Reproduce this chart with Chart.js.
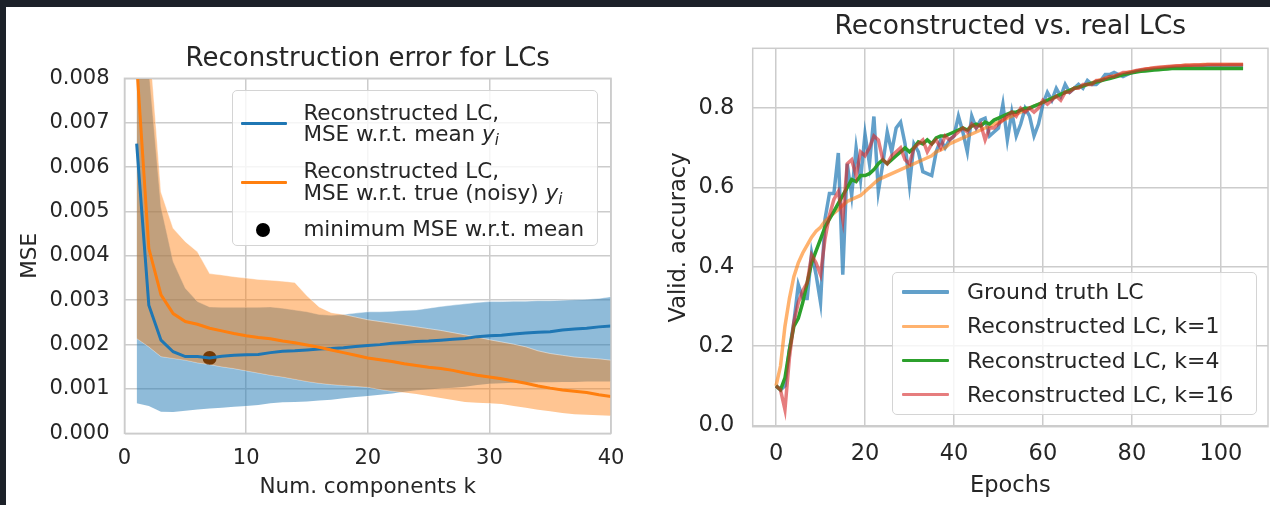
<!DOCTYPE html>
<html lang="en">
<head>
  <meta charset="UTF-8">
  <title>Reconstructed learning curves</title>
  <script src="https://cdn.jsdelivr.net/npm/chart.js"></script>
  <style>
    body {
      margin: 0;
      width: 1270px;
      height: 505px;
      overflow: hidden;
      background: #1c2129;
      font-family: 'DejaVu Sans', sans-serif;
      color: #262626;
    }
    #sheet {
      position: absolute;
      left: 6px;
      top: 7px;
      width: 1264px;
      height: 498px;
      background: #fff;
    }
    .panel { position: absolute; top: 0; height: 498px; }
    #left-panel { left: 0; width: 620px; }
    #right-panel { left: 624px; width: 640px; }
    .legend {
      position: absolute;
      background: rgba(255, 255, 255, 0.8);
      border: 1.5px solid #d4d4d4;
      border-radius: 5px;
      box-sizing: border-box;
    }
    .legend .handle { position: absolute; border-radius: 1px; }
    .legend .dot { position: absolute; border-radius: 50%; background: #000; }
    .legend .txt { position: absolute; white-space: nowrap; line-height: 26px; height: 26px; }
    .legend .math { font-style: italic; }
    .legend sub { font-size: 70%; vertical-align: -0.25em; line-height: 0; }
  </style>
</head>
<body>
  <div id="sheet">
    <div class="panel" id="left-panel"><canvas id="mseChart"></canvas></div>
    <div class="panel" id="right-panel"><canvas id="lcChart"></canvas></div>
    <div class="legend" id="mseLegend" style="left:226px;top:83px;width:366px;height:156px;"></div>
    <div class="legend" id="lcLegend" style="left:886px;top:265px;width:365px;height:143px;"></div>
  </div>
  <script>
    // left panel: reconstruction error vs number of components
    const components = [1, 2, 3, 4, 5, 6, 7, 8, 9, 10, 11, 12, 13, 14, 15, 16, 17, 18, 19, 20,
      21, 22, 23, 24, 25, 26, 27, 28, 29, 30, 31, 32, 33, 34, 35, 36, 37, 38, 39, 40];
    const mseMean = [0.00653, 0.00289, 0.00210, 0.00184, 0.00173, 0.00173, 0.00170, 0.00174, 0.00176, 0.00177,
      0.00178, 0.00182, 0.00185, 0.00186, 0.00188, 0.00190, 0.00191, 0.00193, 0.00196, 0.00198,
      0.00200, 0.00203, 0.00205, 0.00207, 0.00208, 0.00210, 0.00212, 0.00214, 0.00218, 0.00220,
      0.00221, 0.00224, 0.00226, 0.00228, 0.00229, 0.00233, 0.00235, 0.00237, 0.00240, 0.00242];
    const mseMeanUpper = [0.0120, 0.0082, 0.00510, 0.00387, 0.00327, 0.00297, 0.00285, 0.00284, 0.00284, 0.00284,
      0.00284, 0.00285, 0.00282, 0.00278, 0.00274, 0.00268, 0.00266, 0.00268, 0.00271, 0.00274,
      0.00274, 0.00275, 0.00277, 0.00278, 0.00282, 0.00286, 0.00289, 0.00292, 0.00295, 0.00297,
      0.00297, 0.00298, 0.00298, 0.00299, 0.00299, 0.00300, 0.00301, 0.00302, 0.00304, 0.00308];
    const mseMeanLower = [0.00068, 0.00062, 0.00049, 0.00048, 0.00051, 0.00054, 0.00056, 0.00058, 0.00060, 0.00062,
      0.00064, 0.00068, 0.00070, 0.00071, 0.00072, 0.00074, 0.00076, 0.00079, 0.00082, 0.00084,
      0.00087, 0.00090, 0.00094, 0.00097, 0.00099, 0.00101, 0.00103, 0.00105, 0.00109, 0.00112,
      0.00113, 0.00114, 0.00114, 0.00115, 0.00115, 0.00116, 0.00116, 0.00117, 0.00117, 0.00117];
    const mseNoisy = [0.00833, 0.00417, 0.00312, 0.00270, 0.00252, 0.00246, 0.00237, 0.00231, 0.00225, 0.00220,
      0.00216, 0.00213, 0.00208, 0.00204, 0.00199, 0.00194, 0.00188, 0.00182, 0.00176, 0.00170,
      0.00166, 0.00162, 0.00157, 0.00153, 0.00149, 0.00146, 0.00142, 0.00136, 0.00131, 0.00127,
      0.00123, 0.00118, 0.00113, 0.00107, 0.00102, 0.00098, 0.00095, 0.00092, 0.00087, 0.00083];
    const mseNoisyUpper = [0.0125, 0.0090, 0.00544, 0.00462, 0.00432, 0.00409, 0.00360, 0.00357, 0.00353, 0.00350,
      0.00347, 0.00345, 0.00343, 0.00340, 0.00310, 0.00285, 0.00272, 0.00268, 0.00262, 0.00256,
      0.00252, 0.00248, 0.00244, 0.00240, 0.00236, 0.00232, 0.00227, 0.00222, 0.00217, 0.00211,
      0.00206, 0.00201, 0.00195, 0.00186, 0.00180, 0.00176, 0.00172, 0.00170, 0.00168, 0.00165];
    const mseNoisyLower = [0.00214, 0.00195, 0.00173, 0.00169, 0.00165, 0.00159, 0.00155, 0.00150, 0.00146, 0.00141,
      0.00136, 0.00131, 0.00127, 0.00122, 0.00117, 0.00113, 0.00110, 0.00108, 0.00106, 0.00104,
      0.00099, 0.00095, 0.00092, 0.00089, 0.00084, 0.00080, 0.00075, 0.00071, 0.00069, 0.00068,
      0.00066, 0.00062, 0.00058, 0.00053, 0.00050, 0.00046, 0.00043, 0.00042, 0.00041, 0.00040];
    const minMse = { k: 7, value: 0.00170 };
    const mseTicksX = [0, 10, 20, 30, 40];
    const mseTicksY = [0, 0.001, 0.002, 0.003, 0.004, 0.005, 0.006, 0.007, 0.008];
    const mseLegendLabels = [
      ['Reconstructed LC,', 'MSE w.r.t. mean $y_i$'],
      ['Reconstructed LC,', 'MSE w.r.t. true (noisy) $y_i$'],
      ['minimum MSE w.r.t. mean']
    ];

    // right panel: validation accuracy per epoch
    const epochs = [0, 1, 2, 3, 4, 5, 6, 7, 8, 9, 10, 11, 12, 13, 14, 15, 16, 17, 18, 19,
      20, 21, 22, 23, 24, 25, 26, 27, 28, 29, 30, 31, 32, 33, 34, 35, 36, 37, 38, 39,
      40, 41, 42, 43, 44, 45, 46, 47, 48, 49, 50, 51, 52, 53, 54, 55, 56, 57, 58, 59,
      60, 61, 62, 63, 64, 65, 66, 67, 68, 69, 70, 71, 72, 73, 74, 75, 76, 77, 78, 79,
      80, 81, 82, 83, 84, 85, 86, 87, 88, 89, 90, 91, 92, 93, 94, 95, 96, 97, 98, 99,
      100, 101, 102, 103, 104, 105];
    const accTruth = [0.10, 0.09, 0.10, 0.19, 0.26, 0.355, 0.32, 0.32, 0.435, 0.38,
      0.31, 0.52, 0.585, 0.585, 0.687, 0.38, 0.66, 0.58, 0.70, 0.62,
      0.735, 0.66, 0.779, 0.59, 0.66, 0.74, 0.69, 0.75, 0.765, 0.71,
      0.607, 0.71, 0.69, 0.64, 0.635, 0.63, 0.69, 0.72, 0.70, 0.72,
      0.73, 0.78, 0.74, 0.69, 0.78, 0.75, 0.77, 0.775, 0.73, 0.74,
      0.75, 0.81, 0.72, 0.79, 0.73, 0.76, 0.80, 0.78, 0.73, 0.76,
      0.81, 0.84, 0.82, 0.85, 0.83, 0.86, 0.84, 0.85, 0.86, 0.85,
      0.87, 0.86, 0.86, 0.87, 0.885, 0.885, 0.89, 0.885, 0.88, 0.885,
      0.89, 0.893, 0.895, 0.897, 0.898, 0.899, 0.90, 0.901, 0.902, 0.903,
      0.903, 0.904, 0.905, 0.905, 0.905, 0.906, 0.906, 0.906, 0.907, 0.907,
      0.907, 0.907, 0.908, 0.908, 0.908, 0.908];
    const accK1 = [0.10, 0.15, 0.25, 0.32, 0.375, 0.41, 0.435, 0.455, 0.475, 0.49,
      0.50, 0.515, 0.525, 0.535, 0.545, 0.555, 0.565, 0.57, 0.575, 0.58,
      0.59, 0.60, 0.61, 0.62, 0.625, 0.63, 0.635, 0.64, 0.645, 0.65,
      0.655, 0.66, 0.665, 0.67, 0.675, 0.68, 0.69, 0.695, 0.70, 0.71,
      0.715, 0.72, 0.725, 0.73, 0.735, 0.74, 0.745, 0.75, 0.755, 0.76,
      0.765, 0.77, 0.775, 0.78, 0.785, 0.79, 0.795, 0.80, 0.805, 0.81,
      0.815, 0.82, 0.825, 0.83, 0.835, 0.84, 0.845, 0.85, 0.853, 0.856,
      0.86, 0.864, 0.868, 0.872, 0.875, 0.878, 0.881, 0.884, 0.887, 0.89,
      0.892, 0.894, 0.896, 0.898, 0.90, 0.901, 0.902, 0.903, 0.904, 0.905,
      0.906, 0.907, 0.908, 0.908, 0.909, 0.909, 0.91, 0.91, 0.91, 0.91,
      0.91, 0.91, 0.91, 0.91, 0.91, 0.91];
    const accK4 = [0.10, 0.09, 0.12, 0.19, 0.25, 0.27, 0.31, 0.36, 0.41, 0.44,
      0.47, 0.50, 0.52, 0.54, 0.56, 0.58, 0.60, 0.62, 0.615, 0.63,
      0.63, 0.635, 0.645, 0.66, 0.67, 0.66, 0.67, 0.68, 0.69, 0.70,
      0.69, 0.70, 0.715, 0.71, 0.72, 0.71, 0.725, 0.73, 0.73, 0.735,
      0.74, 0.745, 0.75, 0.745, 0.755, 0.76, 0.755, 0.765, 0.76, 0.77,
      0.775, 0.78, 0.785, 0.79, 0.79, 0.795, 0.80, 0.80, 0.805, 0.81,
      0.815, 0.82, 0.825, 0.83, 0.835, 0.84, 0.845, 0.85, 0.853, 0.856,
      0.86, 0.863, 0.866, 0.869, 0.872, 0.875, 0.878, 0.881, 0.884, 0.887,
      0.889, 0.891, 0.893, 0.894, 0.895, 0.896, 0.897, 0.898, 0.899, 0.90,
      0.90, 0.90, 0.90, 0.90, 0.90, 0.90, 0.90, 0.90, 0.90, 0.90,
      0.90, 0.90, 0.90, 0.90, 0.90, 0.90];
    const accK16 = [0.10, 0.09, 0.04, 0.17, 0.26, 0.31, 0.34, 0.36, 0.43, 0.41,
      0.38, 0.47, 0.53, 0.57, 0.59, 0.52, 0.66, 0.67, 0.63, 0.69,
      0.68, 0.70, 0.73, 0.72, 0.67, 0.66, 0.68, 0.69, 0.70, 0.67,
      0.66, 0.70, 0.71, 0.72, 0.69, 0.71, 0.72, 0.70, 0.73, 0.72,
      0.73, 0.74, 0.75, 0.74, 0.76, 0.75, 0.76, 0.72, 0.75, 0.75,
      0.76, 0.77, 0.78, 0.79, 0.78, 0.80, 0.79, 0.80, 0.79, 0.80,
      0.82, 0.81, 0.82, 0.83, 0.82, 0.84, 0.84, 0.85, 0.85, 0.86,
      0.86, 0.86, 0.87, 0.87, 0.875, 0.88, 0.88, 0.885, 0.89, 0.89,
      0.892, 0.895, 0.897, 0.899, 0.90, 0.902, 0.903, 0.904, 0.905, 0.906,
      0.907, 0.907, 0.908, 0.908, 0.909, 0.909, 0.909, 0.91, 0.91, 0.91,
      0.91, 0.91, 0.91, 0.91, 0.91, 0.91];
    const accTicksX = [0, 20, 40, 60, 80, 100];
    const accTicksY = [0, 0.2, 0.4, 0.6, 0.8];
    const lcLegendLabels = ['Ground truth LC', 'Reconstructed LC, k=1', 'Reconstructed LC, k=4', 'Reconstructed LC, k=16'];

    const textColor = '#262626';
    const gridColor = '#cccccc';
    Chart.defaults.font.family = "'DejaVu Sans', sans-serif";
    Chart.defaults.color = textColor;

    const points = (xs, ys) => ys.map((y, i) => ({ x: xs[i], y: y }));
    const fixTicks = values => scale => { scale.ticks = values.map(v => ({ value: v })); };

    // light grey box round the plot area, like the seaborn spines
    const framePlugin = {
      id: 'frame',
      afterDatasetsDraw(chart) {
        const { ctx, chartArea: a } = chart;
        ctx.save();
        ctx.strokeStyle = gridColor;
        ctx.lineWidth = 1.5;
        ctx.strokeRect(a.left, a.top, a.right - a.left, a.bottom - a.top);
        ctx.restore();
      }
    };

    function band(data, color, order, fill) {
      return {
        data: data, fill: fill, backgroundColor: color,
        borderColor: 'rgba(255,255,255,0.45)', borderWidth: 1,
        pointRadius: 0, tension: 0, order: order
      };
    }

    const mseChart = new Chart(document.getElementById('mseChart'), {
      type: 'line',
      data: {
        datasets: [
          band(points(components, mseMeanUpper), 'rgba(31,119,180,0.5)', 5, '+1'),
          band(points(components, mseMeanLower), 'transparent', 5, false),
          band(points(components, mseNoisyUpper), 'rgba(255,127,14,0.45)', 3, '+1'),
          band(points(components, mseNoisyLower), 'transparent', 3, false),
          {
            type: 'scatter', data: [{ x: minMse.k, y: minMse.value }],
            backgroundColor: '#000', borderWidth: 0, pointRadius: 7, order: 4
          },
          {
            data: points(components, mseMean), borderColor: '#1f77b4', borderWidth: 3,
            pointRadius: 0, fill: false, order: 2
          },
          {
            data: points(components, mseNoisy), borderColor: '#ff7f0e', borderWidth: 3,
            pointRadius: 0, fill: false, order: 1
          }
        ]
      },
      options: {
        responsive: true,
        maintainAspectRatio: false,
        animation: false,
        layout: { padding: { left: 0, right: 15, top: 0, bottom: 0 } },
        plugins: {
          legend: { display: false },
          tooltip: { enabled: false },
          title: {
            display: true, text: 'Reconstruction error for LCs', fullSize: false,
            font: { size: 26, weight: 'normal' }, color: textColor,
            padding: { top: 36.9, bottom: 3.2 }
          }
        },
        scales: {
          x: {
            type: 'linear', min: 0, max: 40,
            afterBuildTicks: fixTicks(mseTicksX),
            ticks: { padding: 12.2, font: { size: 21 }, color: textColor },
            grid: { color: gridColor, lineWidth: 1.5, drawTicks: false },
            border: { display: false },
            title: { display: true, text: 'Num. components k', font: { size: 21.5 }, color: textColor, padding: { top: 0, bottom: 5.1 } },
            afterFit: s => { s.height = 71.6; s.paddingLeft = 0; s.paddingRight = 0; }
          },
          y: {
            type: 'linear', min: 0, max: 0.008,
            afterBuildTicks: fixTicks(mseTicksY),
            ticks: { padding: 15, font: { size: 21 }, color: textColor, callback: v => v.toFixed(3) },
            grid: { color: gridColor, lineWidth: 1.5, drawTicks: false },
            border: { display: false },
            title: { display: true, text: 'MSE', font: { size: 21.5 }, color: textColor, padding: { top: 11.2, bottom: 0 } },
            afterFit: s => { s.width = 118.5; s.paddingTop = 0; s.paddingBottom = 0; }
          }
        }
      },
      plugins: [framePlugin]
    });

    const lcColors = ['rgba(31,119,180,0.7)', 'rgba(255,127,14,0.6)', '#2ca02c', 'rgba(214,39,40,0.6)'];
    const lcSeries = [accTruth, accK1, accK4, accK16];

    const lcChart = new Chart(document.getElementById('lcChart'), {
      type: 'line',
      data: {
        datasets: lcSeries.map((s, i) => ({
          label: lcLegendLabels[i], data: points(epochs, s),
          borderColor: lcColors[i], borderWidth: 3.5, pointRadius: 0,
          fill: false, tension: 0, order: 4 - i
        }))
      },
      options: {
        responsive: true,
        maintainAspectRatio: false,
        animation: false,
        layout: { padding: { left: 0, right: 2, top: 0, bottom: 0 } },
        plugins: {
          legend: { display: false },
          tooltip: { enabled: false },
          title: {
            display: true, text: 'Reconstructed vs. real LCs', fullSize: false,
            font: { size: 26.5, weight: 'normal' }, color: textColor,
            padding: { top: 4.4, bottom: 5.1 }
          }
        },
        scales: {
          x: {
            type: 'linear', min: -5.25, max: 110.6,
            afterBuildTicks: fixTicks(accTicksX),
            ticks: { padding: 14, font: { size: 22.5 }, color: textColor },
            grid: { color: gridColor, lineWidth: 1.5, drawTicks: false },
            border: { display: false },
            title: { display: true, text: 'Epochs', font: { size: 22.5 }, color: textColor, padding: { top: 0, bottom: 5 } },
            afterFit: s => { s.height = 78.3; s.paddingLeft = 0; s.paddingRight = 0; }
          },
          y: {
            type: 'linear', min: -0.003, max: 0.951,
            afterBuildTicks: fixTicks(accTicksY),
            ticks: { padding: 18.3, font: { size: 22.5 }, color: textColor, callback: v => v.toFixed(1) },
            grid: { color: gridColor, lineWidth: 1.5, drawTicks: false },
            border: { display: false },
            title: { display: true, text: 'Valid. accuracy', font: { size: 22.5 }, color: textColor, padding: { top: 35.5, bottom: 0 } },
            afterFit: s => { s.width = 122.7; s.paddingTop = 0; s.paddingBottom = 0; }
          }
        }
      },
      plugins: [framePlugin]
    });

    // html legends, built from the dataset colours and label arrays
    function mathText(str) {
      return str.replace(/\$(\w)_(\w)\$/g, '<span class="math">$1<sub>$2</sub></span>');
    }

    function addText(box, html, left, centerY, size) {
      const t = document.createElement('div');
      t.className = 'txt';
      t.style.left = left + 'px';
      t.style.top = (centerY - 13) + 'px';
      t.style.fontSize = size + 'px';
      t.innerHTML = html;
      box.appendChild(t);
    }

    function addHandle(box, color, left, width, centerY, thickness) {
      const h = document.createElement('div');
      h.className = 'handle';
      h.style.left = left + 'px';
      h.style.width = width + 'px';
      h.style.top = (centerY - thickness / 2) + 'px';
      h.style.height = thickness + 'px';
      h.style.background = color;
      box.appendChild(h);
    }

    const mseBox = document.getElementById('mseLegend');
    const mseRows = [[21.7, 43.3], [80, 101.7], [138.3]];
    const mseHandleColors = ['#1f77b4', '#ff7f0e'];
    mseLegendLabels.forEach((lines, i) => {
      const rows = mseRows[i];
      const mid = (rows[0] + rows[rows.length - 1]) / 2;
      if (i < 2) {
        addHandle(mseBox, mseHandleColors[i], 7.7, 46, i === 0 ? 32.7 : 91.7, 3);
      } else {
        const d = document.createElement('div');
        d.className = 'dot';
        d.style.left = (30 - 7) + 'px';
        d.style.top = (mid + 1 - 7) + 'px';
        d.style.width = '14px';
        d.style.height = '14px';
        mseBox.appendChild(d);
      }
      lines.forEach((line, j) => addText(mseBox, mathText(line), 70.4, rows[j], 21.5));
    });

    const lcBox = document.getElementById('lcLegend');
    const lcRows = [19, 53.3, 87.6, 121.6];
    lcLegendLabels.forEach((label, i) => {
      addHandle(lcBox, lcColors[i], 9, 47.4, lcRows[i], 3.5);
      addText(lcBox, label, 74, lcRows[i], 22);
    });
  </script>
</body>
</html>
